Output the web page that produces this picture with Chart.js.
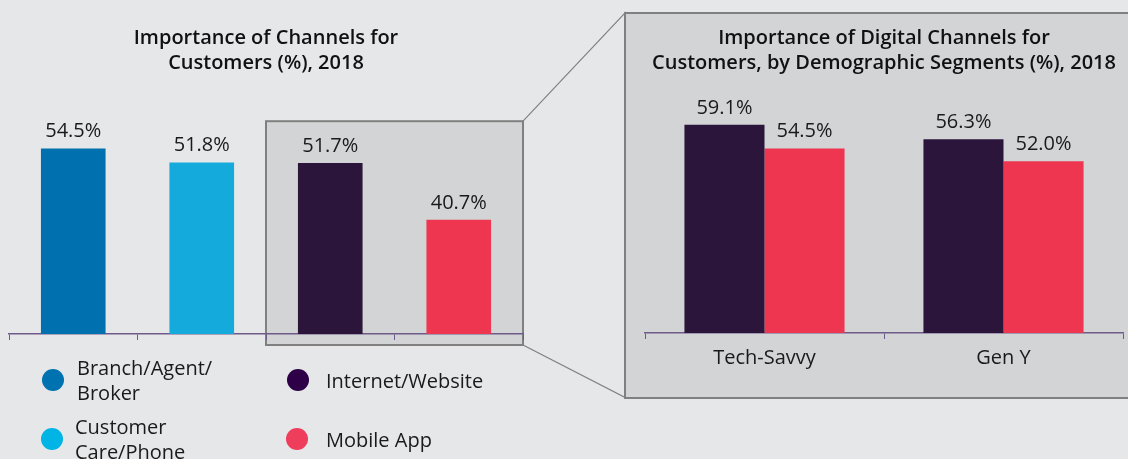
<!DOCTYPE html>
<html>
<head>
<meta charset="utf-8">
<script src="https://cdn.jsdelivr.net/npm/chart.js@4"></script>
<style>
  body { margin: 0; width: 1128px; height: 459px; overflow: hidden; position: relative;
         background: #e6e7e9; font-family: 'Open Sans', sans-serif; color: #1a1a1a; }
  #panel { position: absolute; left: 624px; top: 12px; width: 520px; height: 387px;
           background: #d3d4d6; border: 2px solid #808080; box-sizing: border-box; }
  #leftWrap { position: absolute; left: 0; top: 0; width: 626px; height: 400px; }
  #rightWrap { position: absolute; left: 624px; top: 0; width: 504px; height: 400px; }
  .dot { position: absolute; width: 22px; height: 22px; border-radius: 50%; }
  .txt { position: absolute; font-size: 20px; line-height: 25px; white-space: nowrap; }
</style>
</head>
<body>
<div id="panel"></div>
<div id="leftWrap"><canvas id="leftChart"></canvas></div>
<div id="rightWrap"><canvas id="rightChart"></canvas></div>
<div id="legend"></div>
<script>
// overall channels
const channels = ['Branch/Agent/Broker', 'Customer Care/Phone', 'Internet/Website', 'Mobile App'];
const channelValues = [54.5, 51.8, 51.7, 40.7];
const channelColors = ['#0070ae', '#14aadb', '#2b153b', '#ee3650'];

// digital channels by segment
const segments = ['Tech-Savvy', 'Gen Y'];
const internetValues = [59.1, 56.3];
const mobileValues = [54.5, 52.0];

// legend
const legendLines = [['Branch/Agent/', 'Broker'], ['Customer', 'Care/Phone'], ['Internet/Website'], ['Mobile App']];
const legendColors = ['#0072b0', '#00b5e5', '#2d0048', '#ef3d5c'];

const axisColor = '#6f5a8a';
const yMin = 18.6, yMax = 60;

const valueLabels = {
    id: 'valueLabels',
    afterDatasetsDraw(chart) {
        const ctx = chart.ctx;
        ctx.save();
        ctx.font = '20px "Open Sans"';
        ctx.fillStyle = '#1a1a1a';
        ctx.textAlign = 'center';
        ctx.textBaseline = 'middle';
        chart.data.datasets.forEach((ds, i) => {
            chart.getDatasetMeta(i).data.forEach((bar, j) => {
                ctx.fillText(ds.data[j].toFixed(1) + '%', bar.x, bar.y - 17);
            });
        });
        ctx.restore();
    }
};

// grey highlight box around the digital bars + connector lines to the panel
// (drawn before the axes so the axis line stays on top)
const zoomBox = {
    id: 'zoomBox',
    beforeDraw(chart) {
        const ctx = chart.ctx;
        const x = chart.scales.x;
        const area = chart.chartArea;
        const left = (x.getPixelForValue(1) + x.getPixelForValue(2)) / 2;
        const right = area.right;
        const top = area.top + 1;
        const bottom = area.bottom + 11;
        ctx.save();
        ctx.fillStyle = '#d3d4d6';
        ctx.fillRect(left, top, right - left, bottom - top);
        ctx.strokeStyle = '#808080';
        ctx.lineWidth = 2;
        ctx.strokeRect(left, top, right - left, bottom - top);
        ctx.lineWidth = 1.2;
        ctx.beginPath();
        ctx.moveTo(right, top);
        ctx.lineTo(chart.width, 12);
        ctx.moveTo(right, bottom);
        ctx.lineTo(chart.width, 398);
        ctx.stroke();
        ctx.restore();
    }
};

Chart.defaults.font.family = '"Open Sans", sans-serif';
Chart.defaults.color = '#1a1a1a';

const titleFont = { size: 20, weight: '600', lineHeight: 1.28 };

new Chart(document.getElementById('leftChart'), {
    type: 'bar',
    data: {
        labels: channels,
        datasets: [{
            data: channelValues,
            backgroundColor: channelColors,
            categoryPercentage: 1,
            barPercentage: 0.503
        }]
    },
    options: {
        responsive: true,
        maintainAspectRatio: false,
        animation: false,
        layout: { padding: { left: 9, right: 103, top: 0, bottom: 60 } },
        plugins: {
            legend: { display: false },
            tooltip: { enabled: false },
            title: {
                display: true,
                text: ['Importance of Channels for', 'Customers (%), 2018'],
                font: titleFont,
                color: '#111',
                padding: { top: 25, bottom: 44 }
            }
        },
        scales: {
            x: {
                ticks: { display: false },
                grid: { drawOnChartArea: false, tickLength: 6, color: axisColor },
                border: { color: axisColor, width: 1.5 }
            },
            y: { display: false, min: yMin, max: yMax }
        }
    },
    plugins: [zoomBox, valueLabels]
});

new Chart(document.getElementById('rightChart'), {
    type: 'bar',
    data: {
        labels: segments,
        datasets: [
            { label: 'Internet/Website', data: internetValues, backgroundColor: channelColors[2] },
            { label: 'Mobile App', data: mobileValues, backgroundColor: channelColors[3] }
        ]
    },
    options: {
        responsive: true,
        maintainAspectRatio: false,
        animation: false,
        datasets: { bar: { categoryPercentage: 0.67, barPercentage: 1 } },
        layout: { padding: { left: 21, right: 5, top: 0, bottom: 23 } },
        plugins: {
            legend: { display: false },
            tooltip: { enabled: false },
            title: {
                display: true,
                text: ['Importance of Digital Channels for', 'Customers, by Demographic Segments (%), 2018'],
                font: titleFont,
                color: '#111',
                padding: { top: 25, bottom: 44 }
            }
        },
        scales: {
            x: {
                ticks: { font: { size: 20 }, color: '#1a1a1a', padding: 7 },
                grid: { drawOnChartArea: false, tickLength: 6, color: axisColor },
                border: { color: axisColor, width: 1.5 }
            },
            y: { display: false, min: yMin, max: yMax }
        }
    },
    plugins: [valueLabels]
});

// html legend (two columns, wrapped labels)
const dotPos = [[53, 380], [51.5, 439], [298, 380], [297, 439]];
const textX = [77, 75, 326, 326];
const legend = document.getElementById('legend');
legendLines.forEach((lines, i) => {
    const dot = document.createElement('div');
    dot.className = 'dot';
    dot.style.left = (dotPos[i][0] - 11) + 'px';
    dot.style.top = (dotPos[i][1] - 11) + 'px';
    dot.style.background = legendColors[i];
    const txt = document.createElement('div');
    txt.className = 'txt';
    txt.style.left = textX[i] + 'px';
    txt.style.top = (dotPos[i][1] - lines.length * 12.5) + 'px';
    txt.innerHTML = lines.join('<br>');
    legend.appendChild(dot);
    legend.appendChild(txt);
});
</script>
</body>
</html>
